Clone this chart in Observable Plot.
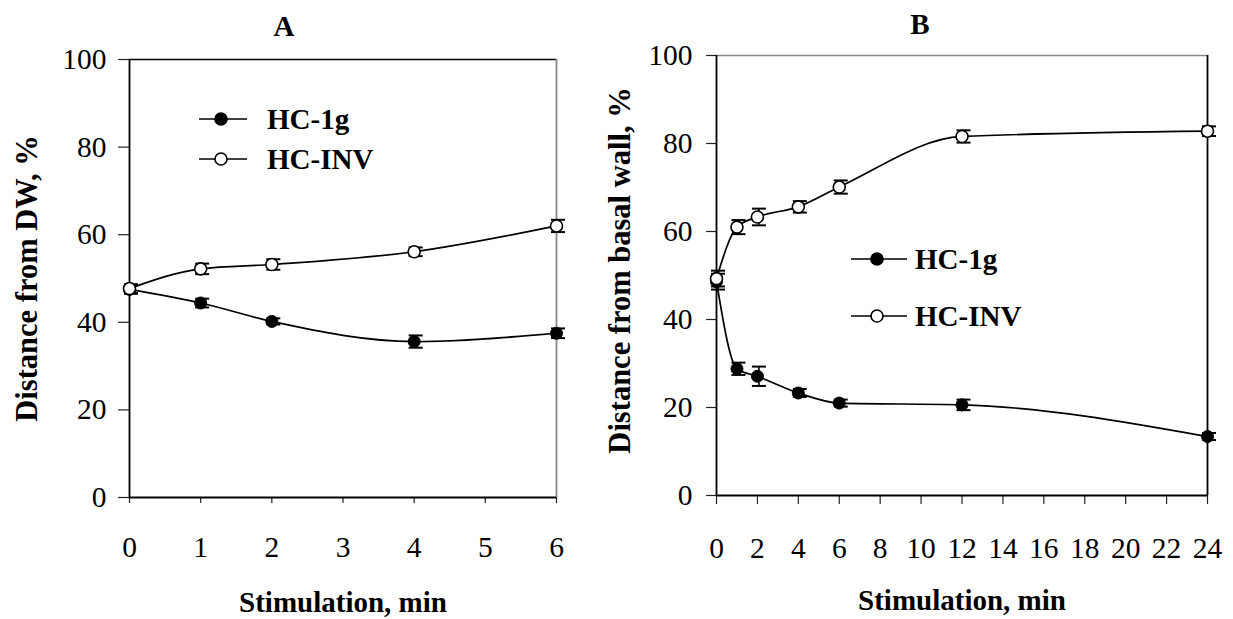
<!DOCTYPE html>
<html><head><meta charset="utf-8">
<script src="https://cdn.jsdelivr.net/npm/d3@7"></script>
<script src="https://cdn.jsdelivr.net/npm/@observablehq/plot@0.6"></script>
<style>
body{margin:0;background:#fff;}
#wrap{position:relative;width:1233px;height:619px;overflow:hidden;background:#fff;font-family:"Liberation Serif","Times New Roman",serif;}
.panel{position:absolute;top:0;}
.leg{position:absolute;display:flex;align-items:center;height:30px;font-weight:bold;font-size:29px;line-height:1;color:#000;white-space:nowrap;}
.leg svg{display:block;overflow:visible;}
</style></head><body>
<div id="wrap"></div>
<script>
// ---- data ----
const seriesNames = ["HC-1g", "HC-INV"];
const yTicks = [0, 20, 40, 60, 80, 100];

const timesA = [0, 1, 2, 4, 6];
const hc1gA = [47.5, 44.4, 40.2, 35.6, 37.5];
const hc1gAErr = [1.0, 1.0, 0.7, 1.4, 1.1];
const hcinvA = [47.7, 52.2, 53.2, 56.1, 62.0];
const hcinvAErr = [1.0, 1.2, 1.2, 1.0, 1.4];
const xTicksA = [0, 1, 2, 3, 4, 5, 6];

const timesB = [0, 1, 2, 4, 6, 12, 24];
const hc1gB = [48.6, 28.8, 27.1, 23.3, 21.0, 20.6, 13.4];
const hc1gBErr = [1.8, 1.4, 2.2, 0.9, 0.8, 1.2, 0.8];
const hcinvB = [49.3, 61.0, 63.3, 65.6, 70.1, 81.6, 82.8];
const hcinvBErr = [1.8, 1.6, 1.9, 1.3, 1.5, 1.4, 1.1];
const xTicksB = [0, 2, 4, 6, 8, 10, 12, 14, 16, 18, 20, 22, 24];

const FONT = '"Liberation Serif","Times New Roman",serif';
const rows = (t, v, e, s) => t.map((x, i) => ({t: x, v: v[i], e: e[i], s}));
const capSymbol = {draw(ctx) { ctx.moveTo(-7, 0); ctx.lineTo(7, 0); }};

function panel(cfg) {
  const d1 = rows(cfg.t, cfg.g, cfg.ge, seriesNames[0]);
  const d2 = rows(cfg.t, cfg.inv, cfg.inve, seriesNames[1]);
  const all = d1.concat(d2);
  return Plot.plot({
    width: cfg.width, height: 619,
    marginLeft: cfg.ml, marginRight: cfg.mr, marginTop: cfg.mt, marginBottom: cfg.mb,
    x: {domain: cfg.xdomain},
    y: {domain: [0, 100]},
    style: {fontFamily: FONT, fontSize: "29px", color: "#000", background: "transparent", overflow: "visible"},
    marks: [
      Plot.ruleY([100], {stroke: cfg.topColor, strokeWidth: 1.5}),
      Plot.ruleX([cfg.xdomain[1]], {stroke: cfg.rightColor, strokeWidth: 1.8}),
      Plot.axisY({ticks: yTicks, tickFormat: d => String(d), tickSize: cfg.ytick, tickPadding: cfg.ypad, label: null, stroke: "#222", strokeWidth: 1.2, fontSize: 29.5}),
      Plot.axisX({ticks: cfg.xticks, tickFormat: d => String(d), tickSize: cfg.xtick, tickPadding: cfg.xpad, label: null, stroke: "#222", strokeWidth: 1.2, fontSize: 29.5}),
      Plot.ruleX([0], {stroke: "#000", strokeWidth: 1.8}),
      Plot.ruleY([0], {stroke: "#000", strokeWidth: 1.8}),
      Plot.line(all, {x: "t", y: "v", z: "s", curve: "monotone-x", stroke: "#000", strokeWidth: 1.7}),
      Plot.ruleX(all, {x: "t", y1: d => d.v - d.e, y2: d => d.v + d.e, stroke: "#000", strokeWidth: 1.6, dx: 1.5}),
      Plot.dot(all, {x: "t", y: d => d.v + d.e, symbol: capSymbol, stroke: "#000", strokeWidth: 2, fill: "none", dx: 1.5}),
      Plot.dot(all, {x: "t", y: d => d.v - d.e, symbol: capSymbol, stroke: "#000", strokeWidth: 2, fill: "none", dx: 1.5}),
      Plot.dot(d1, {x: "t", y: "v", r: 6, fill: "#000", stroke: "#000", strokeWidth: 1}),
      Plot.dot(d2, {x: "t", y: "v", r: 6, fill: "#fff", stroke: "#000", strokeWidth: 1.6}),
      Plot.text([cfg.title], {frameAnchor: "top", textAnchor: "middle", lineAnchor: "middle", dx: cfg.titleDx, dy: cfg.titleDy, fontWeight: "bold", fontSize: 29}),
      Plot.text([cfg.xlabel], {frameAnchor: "bottom", textAnchor: "middle", lineAnchor: "middle", dy: cfg.xlabDy, fontWeight: "bold", fontSize: 29}),
      Plot.text([cfg.ylabel], {frameAnchor: "left", textAnchor: "middle", lineAnchor: "middle", rotate: -90, dx: cfg.ylabDx, dy: cfg.ylabDy, fontWeight: "bold", fontSize: 30.5})
    ]
  });
}

function legend(parent, x, y, name, filled, lineLen, gap) {
  const div = document.createElement("div");
  div.className = "leg";
  div.style.left = x + "px";
  div.style.top = (y - 15) + "px";
  const ns = "http://www.w3.org/2000/svg";
  const svg = document.createElementNS(ns, "svg");
  svg.setAttribute("width", lineLen);
  svg.setAttribute("height", 30);
  const ln = document.createElementNS(ns, "line");
  ln.setAttribute("x1", 0); ln.setAttribute("x2", lineLen);
  ln.setAttribute("y1", 15); ln.setAttribute("y2", 15);
  ln.setAttribute("stroke", "#000"); ln.setAttribute("stroke-width", 1.6);
  const c = document.createElementNS(ns, "circle");
  c.setAttribute("cx", lineLen / 2 - 2); c.setAttribute("cy", 15); c.setAttribute("r", 6);
  c.setAttribute("fill", filled ? "#000" : "#fff");
  c.setAttribute("stroke", "#000"); c.setAttribute("stroke-width", 1.6);
  svg.append(ln, c);
  const sp = document.createElement("span");
  sp.textContent = name;
  sp.style.marginLeft = gap + "px";
  div.append(svg, sp);
  parent.append(div);
}

const wrap = document.getElementById("wrap");

const pa = panel({
  width: 600, t: timesA, g: hc1gA, ge: hc1gAErr, inv: hcinvA, inve: hcinvAErr,
  xdomain: [0, 6], xticks: xTicksA,
  ml: 129, mr: 44, mt: 59, mb: 122,
  ytick: 11, ypad: 12, xtick: 6, xpad: 33,
  topColor: "#000", rightColor: "#888",
  title: "A", titleDx: -59, titleDy: -33,
  xlabel: "Stimulation, min", xlabDy: 105,
  ylabel: "Distance from DW, %", ylabDx: -102, ylabDy: 0
});
const da = document.createElement("div"); da.className = "panel"; da.style.left = "0px"; da.append(pa); wrap.append(da);

const pb = panel({
  width: 633, t: timesB, g: hc1gB, ge: hc1gBErr, inv: hcinvB, inve: hcinvBErr,
  xdomain: [0, 24], xticks: xTicksB,
  ml: 116, mr: 26, mt: 55, mb: 124,
  ytick: 10, ypad: 14, xtick: 9, xpad: 33,
  topColor: "#888", rightColor: "#000",
  title: "B", titleDx: -42, titleDy: -31,
  xlabel: "Stimulation, min", xlabDy: 105,
  ylabel: "Distance from basal wall, %", ylabDx: -96, ylabDy: -5
});
const db = document.createElement("div"); db.className = "panel"; db.style.left = "600px"; db.append(pb); wrap.append(db);

legend(wrap, 199, 119, seriesNames[0], true, 48, 20);
legend(wrap, 199, 159, seriesNames[1], false, 48, 20);
legend(wrap, 851, 259, seriesNames[0], true, 56, 8);
legend(wrap, 851, 316, seriesNames[1], false, 56, 8);
</script>
</body></html>
